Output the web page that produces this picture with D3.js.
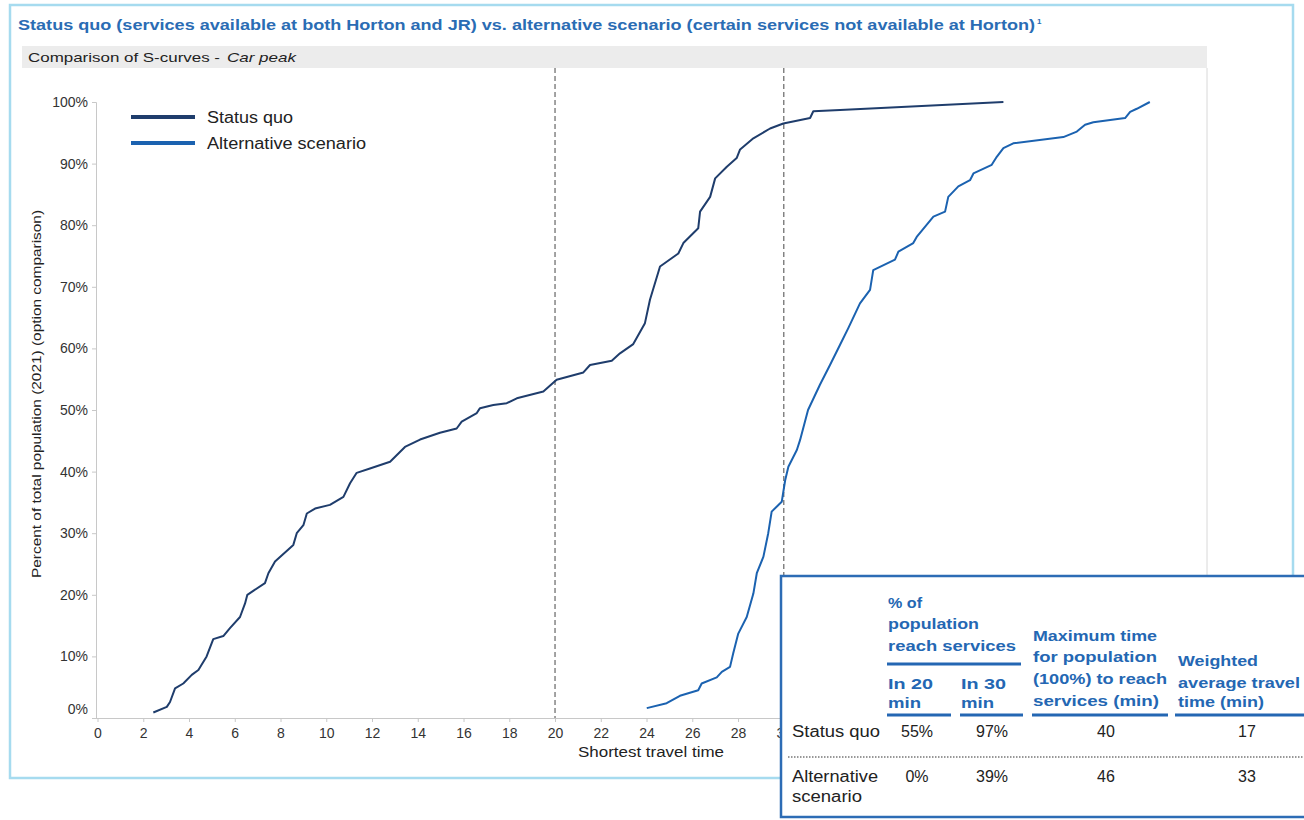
<!DOCTYPE html>
<html><head><meta charset="utf-8">
<script src="https://cdn.jsdelivr.net/npm/d3@7/dist/d3.min.js"></script>
<style>
html,body{margin:0;padding:0;background:#fff;}
text{font-family:"Liberation Sans",Arial,sans-serif;}
</style></head>
<body><svg id="c" width="1304" height="820"></svg>
<script>
// ---------- data ----------
const statusX = [2.44,3.03,3.17,3.39,3.75,4.12,4.41,4.77,5.06,5.50,5.79,6.23,6.45,6.55,7.32,7.47,7.76,8.56,8.71,9.00,9.15,9.51,10.16,10.75,11.04,11.33,11.91,12.79,13.44,14.10,14.97,15.70,15.92,16.58,16.72,17.30,17.89,18.33,19.49,20.07,21.24,21.53,22.48,22.84,23.42,23.93,24.15,24.59,25.39,25.61,26.26,26.34,26.78,27.00,27.51,27.94,28.09,28.67,29.40,29.98,31.15,31.29,32.46,39.6];
const statusY = [0.9,1.8,2.6,4.8,5.6,7.0,7.8,10.0,12.8,13.3,14.6,16.4,18.6,20.0,21.9,23.5,25.4,28.1,30.0,31.3,33.2,34.0,34.6,35.9,38.1,39.8,40.5,41.6,44.0,45.2,46.3,47.0,48.1,49.5,50.3,50.8,51.1,51.9,53.0,54.9,56.1,57.3,58.0,59.2,60.7,64.1,67.9,73.3,75.4,77.1,79.5,82.2,84.6,87.6,89.5,90.9,92.3,94.1,95.7,96.5,97.4,98.5,98.7,100];
const altX = [24.01,24.88,25.46,26.26,26.41,27.07,27.29,27.65,27.79,28.01,28.38,28.67,28.82,29.11,29.32,29.47,29.91,30.06,30.20,30.57,30.71,31.06,31.58,32.02,32.46,32.82,33.33,33.77,33.91,34.86,35.01,35.66,35.81,36.54,37.05,37.19,37.63,38.14,38.29,39.09,39.31,39.60,40.03,42.22,42.81,43.17,43.53,44.92,45.14,45.43,46.0];
const altY = [1.6,2.4,3.6,4.5,5.6,6.6,7.5,8.3,10.5,13.7,16.4,20.2,23.5,26.2,30.0,33.5,35.1,38.6,40.8,43.5,45.1,50.0,54.1,57.3,60.6,63.3,67.3,69.5,72.7,74.4,75.7,77.1,78.1,81.4,82.2,84.6,86.3,87.3,88.4,89.8,91.1,92.5,93.3,94.3,95.2,96.3,96.7,97.4,98.4,98.9,100];
const seriesNames = ["Status quo","Alternative scenario"];
const refLines = [20,30];
const xTicks = [0,2,4,6,8,10,12,14,16,18,20,22,24,26,28,30];
const yTicks = [0,10,20,30,40,50,60,70,80,90,100];
const rowNames = [["Status quo"],["Alternative","scenario"]];
const in20 = ["55%","0%"];
const in30 = ["97%","39%"];
const maxTime = ["40","46"];
const avgTime = ["17","33"];

// ---------- layout ----------
const svg = d3.select("#c");
const navy = "#1f3d6c", blue = "#1b62b0", headBlue = "#2467b3";
const x = d3.scaleLinear().domain([0,48.5]).range([97.5,1207]);
const y = d3.scaleLinear().domain([0,100]).range([718,102]);

// outer frame
svg.append("rect").attr("x",10).attr("y",5).attr("width",1283).attr("height",773)
  .attr("fill","none").attr("stroke","#a6dbef").attr("stroke-width",2.5);

// title
svg.append("text").attr("x",18).attr("y",30).attr("fill","#2a6cb4")
  .attr("font-size",15).attr("font-weight","bold")
  .attr("textLength",1017).attr("lengthAdjust","spacingAndGlyphs")
  .text("Status quo (services available at both Horton and JR) vs. alternative scenario (certain services not available at Horton)");
svg.append("text").attr("x",1037).attr("y",24).attr("fill","#2a6cb4").attr("font-size",8).attr("font-weight","bold").text("1");

// grey header bar
svg.append("rect").attr("x",22).attr("y",46).attr("width",1185).attr("height",22).attr("fill","#ececec");
svg.append("text").attr("x",28).attr("y",62).attr("font-size",13).attr("fill","#222")
  .attr("textLength",192).attr("lengthAdjust","spacingAndGlyphs").text("Comparison of S-curves -");
svg.append("text").attr("x",227).attr("y",62).attr("font-size",13).attr("fill","#222").attr("font-style","italic")
  .attr("textLength",69).attr("lengthAdjust","spacingAndGlyphs").text("Car peak");

// plot frame right border
svg.append("line").attr("x1",1207).attr("x2",1207).attr("y1",68).attr("y2",718).attr("stroke","#d8d8d8");

// axes
const gx = svg.append("g").attr("transform","translate(0,718)")
  .call(d3.axisBottom(x).tickValues(xTicks).tickSize(4).tickPadding(6).tickFormat(d3.format("d")));
const gy = svg.append("g").attr("transform","translate(96,0)")
  .call(d3.axisLeft(y).tickValues(yTicks).tickSize(4).tickPadding(4).tickFormat(d=>d+"%"));
[gx,gy].forEach(g=>{
  g.select(".domain").attr("stroke","#c8c8c8");
  g.selectAll(".tick line").attr("stroke","#c8c8c8");
  g.selectAll(".tick text").attr("fill","#333").attr("font-size",14).attr("font-family","Liberation Sans, Arial, sans-serif");
});
gx.select(".domain").attr("d","M96,0.5H1207");
gy.selectAll(".tick text").filter(d=>d===0).attr("dy","-0.35em");

// axis titles
svg.append("text").attr("x",651).attr("y",757).attr("text-anchor","middle").attr("font-size",14).attr("fill","#222")
  .attr("textLength",146).attr("lengthAdjust","spacingAndGlyphs").text("Shortest travel time");
svg.append("text").attr("transform","translate(41,394) rotate(-90)").attr("text-anchor","middle")
  .attr("font-size",13).attr("fill","#222").attr("textLength",368).attr("lengthAdjust","spacingAndGlyphs")
  .text("Percent of total population (2021) (option comparison)");

// reference dashed lines
svg.selectAll(".ref").data(refLines).enter().append("line")
  .attr("x1",d=>x(d)).attr("x2",d=>x(d)).attr("y1",68).attr("y2",718)
  .attr("stroke","#666").attr("stroke-width",1.2).attr("stroke-dasharray","5,3");

// curves
const line = d3.line().x(d=>x(d[0])).y(d=>y(d[1]));
svg.append("path").datum(statusX.map((v,i)=>[v,statusY[i]])).attr("d",line)
  .attr("fill","none").attr("stroke",navy).attr("stroke-width",2).attr("stroke-linejoin","round");
svg.append("path").datum(altX.map((v,i)=>[v,altY[i]])).attr("d",line)
  .attr("fill","none").attr("stroke",blue).attr("stroke-width",2).attr("stroke-linejoin","round");

// legend
const lg = svg.append("g");
[navy,blue].forEach((c,i)=>{
  lg.append("line").attr("x1",131).attr("x2",195).attr("y1",117+i*26).attr("y2",117+i*26).attr("stroke",c).attr("stroke-width",4);
  lg.append("text").attr("x",207).attr("y",123+i*26).attr("font-size",16).attr("fill","#222")
    .attr("textLength",i===0?86:159).attr("lengthAdjust","spacingAndGlyphs").text(seriesNames[i]);
});

// table box
const tb = svg.append("g");
tb.append("rect").attr("x",781).attr("y",576).attr("width",540).attr("height",241)
  .attr("fill","#fff").attr("stroke","#2d6cb5").attr("stroke-width",2.5);
const head = (tx,ty,s,len)=>tb.append("text").attr("x",tx).attr("y",ty).attr("fill",headBlue)
  .attr("font-size",15).attr("font-weight","bold").attr("textLength",len).attr("lengthAdjust","spacingAndGlyphs").text(s);
head(888,608,"% of",34);
head(888,629,"population",91);
head(888,651,"reach services",128);
head(888,689,"In 20",45);
head(888,708,"min",33);
head(961,689,"In 30",45);
head(961,708,"min",33);
head(1033,641,"Maximum time",124);
head(1033,662,"for population",124);
head(1033,684,"(100%) to reach",134);
head(1033,706,"services (min)",126);
head(1178,666,"Weighted",80);
head(1178,688,"average travel",122);
head(1178,707,"time (min)",86);
const ul = (x1,x2,yy)=>tb.append("line").attr("x1",x1).attr("x2",x2).attr("y1",yy).attr("y2",yy).attr("stroke","#2467b3").attr("stroke-width",3);
ul(887,1021,664);
ul(887,951,715); ul(960,1023,715); ul(1032,1168,715); ul(1175,1304,715);
tb.append("line").attr("x1",788).attr("x2",1304).attr("y1",757).attr("y2",757)
  .attr("stroke","#777").attr("stroke-width",1.5).attr("stroke-dasharray","1.5,1.5");
const nameLen = {"Status quo":88,"Alternative":86,"scenario":70};
const cell = (tx,ty,s,anchor,len)=>{
  const e = tb.append("text").attr("x",tx).attr("y",ty).attr("fill","#222").attr("font-size",16)
    .attr("text-anchor",anchor).text(s);
  if(len) e.attr("textLength",len).attr("lengthAdjust","spacingAndGlyphs");
  return e;
};
const rowY = [737,782];
rowNames.forEach((lines,i)=>{
  lines.forEach((s,j)=>cell(792,rowY[i]+j*20,s,"start",nameLen[s]));
  cell(917,rowY[i],in20[i],"middle");
  cell(992,rowY[i],in30[i],"middle");
  cell(1106,rowY[i],maxTime[i],"middle");
  cell(1247,rowY[i],avgTime[i],"middle");
});
</script></body></html>
